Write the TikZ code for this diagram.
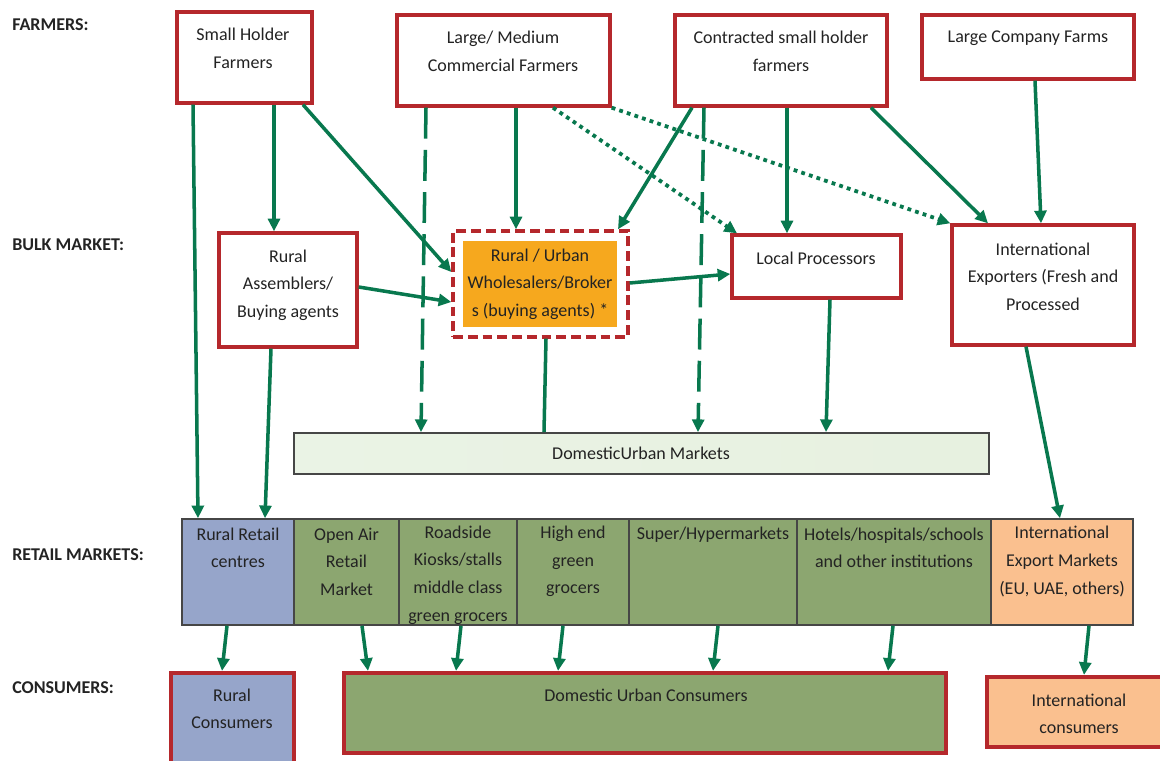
\documentclass[tikz,border=0pt]{standalone}
\usepackage{fontspec}
\setmainfont{Carlito}
\usetikzlibrary{arrows.meta}
\definecolor{frame}{RGB}{181,40,44}
\definecolor{flowgreen}{RGB}{8,120,78}
\definecolor{ink}{RGB}{35,35,35}
\definecolor{cellline}{RGB}{70,70,70}
\definecolor{wholesale}{RGB}{246,168,30}
\definecolor{ruralblue}{RGB}{150,165,202}
\definecolor{urbangreen}{RGB}{140,166,112}
\definecolor{peach}{RGB}{250,192,143}
\definecolor{barL}{RGB}{234,243,229}
\definecolor{barM}{RGB}{188,214,168}
\definecolor{barR}{RGB}{231,241,224}
\begin{document}
\begin{tikzpicture}[x=0.025cm,y=-0.025cm,
  sz/.style 2 args={minimum width=#1*0.025cm,minimum height=#2*0.025cm},
  farm/.style={draw=frame,line width=2.4pt,fill=white,inner sep=0},
  cons/.style={draw=frame,line width=3pt,inner sep=0},
  cell/.style={draw=cellline,line width=1.1pt,inner sep=0},
  txt/.style={align=center,inner sep=0,text=ink,font=\fontsize{12.8pt}{19.6pt}\selectfont},
  head/.style={anchor=west,inner sep=0,text=ink,font=\fontsize{12.8pt}{19.6pt}\selectfont\bfseries},
  flow/.style={draw=flowgreen,line width=2.5pt,-{Triangle[length=9pt,width=8.5pt]}},
  longdash/.style={flow,dash pattern=on 22pt off 8pt},
  dots/.style={flow,line width=2.7pt,dash pattern=on 2.7pt off 3pt}]
\useasboundingbox (0,0) rectangle (1160,761);
\clip (0,0) rectangle (1160,761);

\node[head] (hfarm) at (12,25) {FARMERS:};
\node[head] (hbulk) at (12,245) {BULK MARKET:};
\node[head] (hretail) at (12,555) {RETAIL MARKETS:};
\node[head] (hcons) at (12,688) {CONSUMERS:};

\node[farm,sz={135}{91}] (shf) at (244.5,57.5) {};
\node[farm,sz={213}{91}] (lmc) at (503.5,60.5) {};
\node[farm,sz={212}{91}] (csh) at (781,60.5) {};
\node[farm,sz={212}{64}] (lcf) at (1028,47) {};
\node[txt] (shf-t) at (243,48.5) {Small Holder\\Farmers};
\node[txt] (lmc-t) at (503,51.5) {Large/ Medium\\Commercial Farmers};
\node[txt] (csh-t) at (781,51.5) {Contracted small holder\\farmers};
\node[txt] (lcf-t) at (1028,38) {Large Company Farms};

\node[farm,sz={138}{114}] (ra) at (288,290) {};
\node[farm,sz={175}{106},dash pattern=on 7pt off 3.5pt] (whs) at (540.5,284) {};
\node[fill=wholesale,inner sep=0,sz={154}{86}] (whs-in) at (540,284) {};
\node[farm,sz={169}{63}] (lp) at (816.5,266.5) {};
\node[farm,sz={182}{120}] (ie) at (1043,285) {};
\node[txt] (ra-t) at (288,285) {Rural\\Assemblers/\\Buying agents};
\node[txt] (whs-t) at (540,284) {Rural / Urban\\Wholesalers/Broker\\s (buying agents) *};
\node[txt] (lp-t) at (816,258) {Local Processors};
\node[txt] (ie-t) at (1043,276.5) {International\\Exporters (Fresh and\\Processed};

\node[draw=cellline,line width=1.3pt,inner sep=0,sz={695}{41},left color=barL,middle color=barM,right color=barR] (dum) at (641.5,453.5) {};
\node[txt] (dum-t) at (641,453) {DomesticUrban Markets};

\node[cell,fill=ruralblue,sz={112}{106}] (rrc) at (238,572) {};
\node[cell,fill=urbangreen,sz={105}{106}] (oar) at (346.5,572) {};
\node[cell,fill=urbangreen,sz={118}{106}] (rk) at (458,572) {};
\node[cell,fill=urbangreen,sz={112}{106}] (heg) at (573,572) {};
\node[cell,fill=urbangreen,sz={168}{106}] (shm) at (713,572) {};
\node[cell,fill=urbangreen,sz={194}{106}] (hot) at (894,572) {};
\node[cell,fill=peach,sz={142}{106}] (iem) at (1062,572) {};
\node[txt] (rrc-t) at (238,548) {Rural Retail\\centres};
\node[txt] (oar-t) at (346.5,561.5) {Open Air\\Retail\\Market};
\node[txt] (rk-t) at (458,575) {Roadside\\Kiosks/stalls\\middle class\\green grocers};
\node[txt] (heg-t) at (573,561.5) {High end\\green\\grocers};
\node[txt] (shm-t) at (713,535) {Super/Hypermarkets};
\node[txt] (hot-t) at (894,548) {Hotels/hospitals/schools\\and other institutions};
\node[txt] (iem-t) at (1062,561.5) {International\\Export Markets\\(EU, UAE, others)};

\node[cons,fill=ruralblue,sz={123}{95}] (rc) at (232.5,720.5) {};
\node[cons,fill=urbangreen,sz={602}{80}] (duc) at (645,713) {};
\node[cons,fill=peach,sz={185}{70}] (ic) at (1079.5,712) {};
\node[txt] (rc-t) at (232,709) {Rural\\Consumers};
\node[txt] (duc-t) at (646,695) {Domestic Urban Consumers};
\node[txt] (ic-t) at (1079,714) {International\\consumers};

\draw[flow] (shf.south -| 193,0) -- (rrc.north -| 198,0);
\draw[flow] (shf.south -| 274,0) -- (ra.north -| 274,0);
\draw[flow] (shf.south -| 303,0) -- (whs.west |- 0,272);
\draw[flow] (ra.east |- 0,287) -- (whs.west |- 0,302);
\draw[flow] (ra.south -| 271,0) -- (rrc.north -| 265,0);
\draw[flow] (lmc.south -| 516,0) -- (whs.north -| 516,0);
\draw[longdash] (lmc.south -| 426,0) -- (dum.north -| 421,0);
\draw[dots] (lmc.south -| 553,0) -- (lp.north -| 737,0);
\draw[dots] (lmc.south east) -- (ie.north west);
\draw[flow] (csh.south -| 692,0) -- (whs.north -| 618,0);
\draw[longdash] (csh.south -| 704,0) -- (dum.north -| 698,0);
\draw[flow] (csh.south -| 787,0) -- (lp.north -| 787,0);
\draw[flow] (csh.south -| 871,0) -- (ie.north -| 988,0);
\draw[flow] (lcf.south -| 1035,0) -- (ie.north -| 1041,0);
\draw[flow] (whs.east |- 0,283) -- (lp.west |- 0,274);
\draw[flow,-] (whs.south -| 546,0) -- (dum.north -| 544,0);
\draw[flow] (lp.south -| 830,0) -- (dum.north -| 826,0);
\draw[flow] (ie.south -| 1026,0) -- (iem.north -| 1060,0);
\draw[flow] (rrc.south -| 227,0) -- (rc.north -| 222,0);
\draw[flow] (oar.south -| 362,0) -- (duc.north -| 368,0);
\draw[flow] (rk.south -| 461,0) -- (duc.north -| 456,0);
\draw[flow] (heg.south -| 563,0) -- (duc.north -| 558,0);
\draw[flow] (shm.south -| 718,0) -- (duc.north -| 713,0);
\draw[flow] (hot.south -| 893,0) -- (duc.north -| 888,0);
\draw[flow] (iem.south -| 1089,0) -- (ic.north -| 1084,0);
\end{tikzpicture}
\end{document}
